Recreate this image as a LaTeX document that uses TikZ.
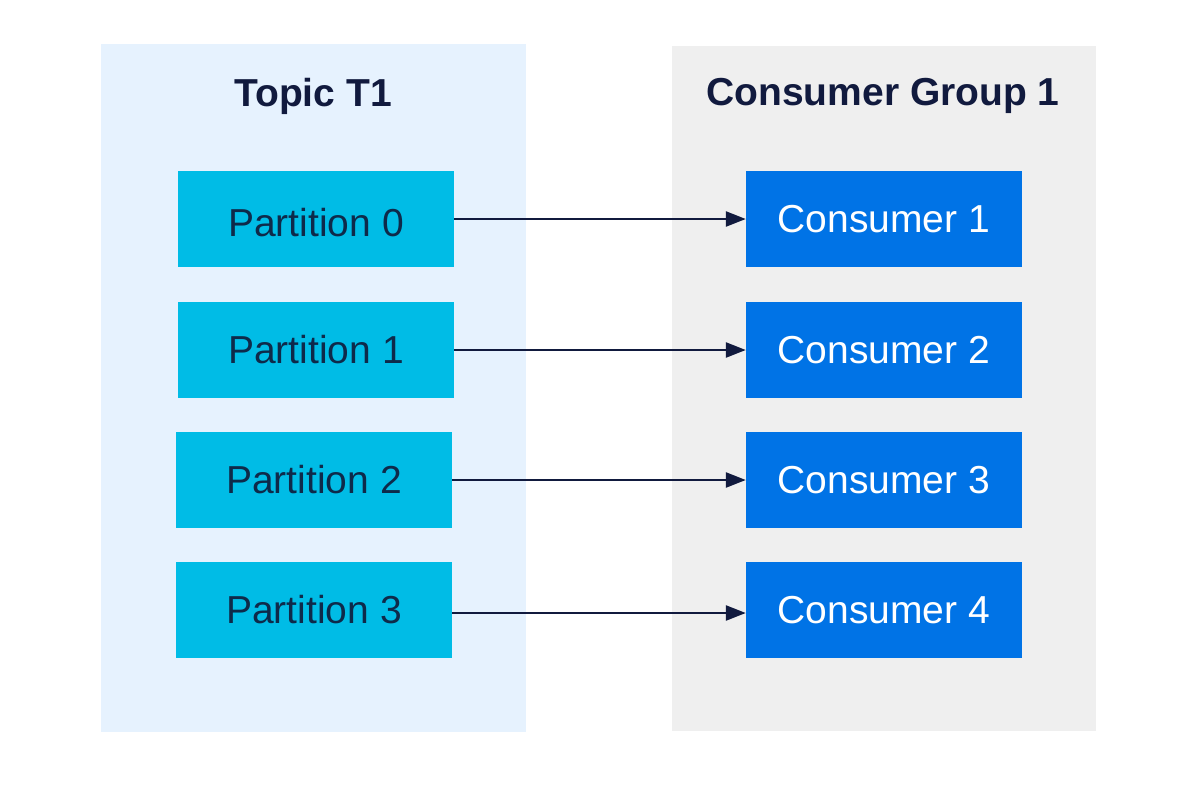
\documentclass[tikz,border=0pt]{standalone}
\usepackage{fontspec}
\setmainfont{Liberation Sans}
\usetikzlibrary{arrows.meta}
\definecolor{topicbg}{HTML}{E6F2FE}
\definecolor{groupbg}{HTML}{EFEFEF}
\definecolor{partfill}{HTML}{00BCE6}
\definecolor{consfill}{HTML}{0073E6}
\definecolor{navy}{HTML}{111A3E}
\definecolor{parttext}{HTML}{0E2A4A}
\tikzset{
  partbox/.style={fill=partfill, minimum width=276pt, minimum height=96pt, inner sep=0pt, text=parttext, font=\fontsize{39}{44}\selectfont},
  consbox/.style={fill=consfill, minimum width=276pt, minimum height=96pt, inner sep=0pt, text=white, font=\fontsize{39}{44}\selectfont},
  title/.style={text=navy, font=\fontsize{39}{44}\selectfont\bfseries, inner sep=0pt},
  link/.style={draw=navy, line width=2.5pt, -{Triangle[length=20pt,width=15pt]}}
}
\newcommand{\lowtext}[1]{\raisebox{-4pt}[\height][\depth]{#1}}
\begin{document}
\begin{tikzpicture}[x=1pt,y=-1pt]
\useasboundingbox[fill=white] (0,0) rectangle (1200,796);
\fill[topicbg] (101,44) rectangle (526,732);
\fill[groupbg] (672,46) rectangle (1096,731);
\node[title] (t1) at (313,96) {Topic T1};
\node[title] (g1) at (883,96) {Consumer Group 1};
\node[partbox] (p0) at (316,219) {\lowtext{Partition 0}};
\node[partbox] (p1) at (316,350) {Partition 1};
\node[partbox] (p2) at (314,480) {Partition 2};
\node[partbox] (p3) at (314,610) {Partition 3};
\node[consbox] (c1) at (884,219) {Consumer 1};
\node[consbox] (c2) at (884,350) {Consumer 2};
\node[consbox] (c3) at (884,480) {Consumer 3};
\node[consbox] (c4) at (884,610) {Consumer 4};
\draw[link] (p0.east) -- (c1.west);
\draw[link] (p1.east) -- (c2.west);
\draw[link] (p2.east) -- (c3.west);
\draw[link] ([yshift=-3pt]p3.east) -- ([yshift=-3pt]c4.west);
\end{tikzpicture}
\end{document}
